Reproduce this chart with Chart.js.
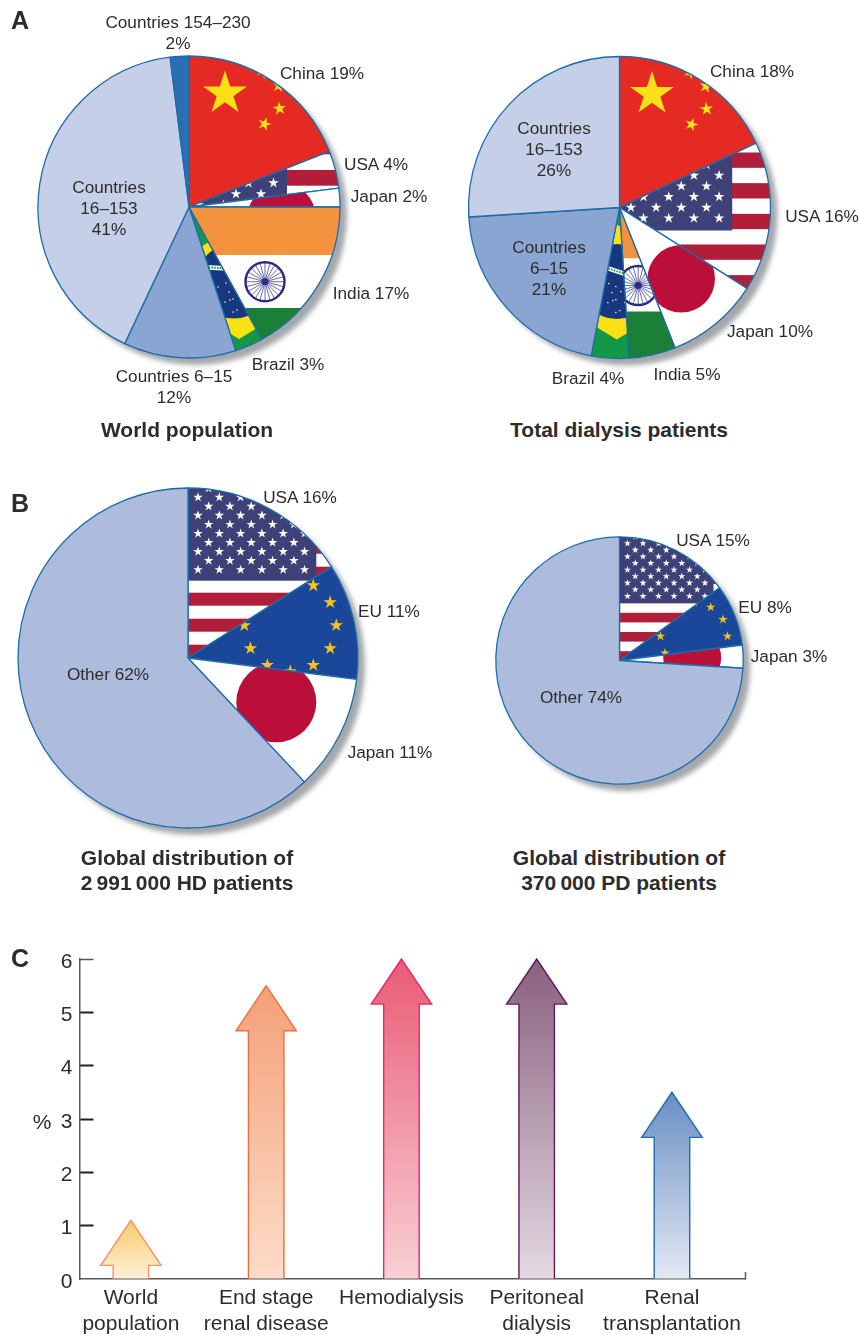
<!DOCTYPE html>
<html>
<head>
<meta charset="utf-8">
<title>Global distribution of dialysis patients</title>
<script src="https://cdn.jsdelivr.net/npm/chart.js@4/dist/chart.umd.js"></script>
<style>
  html, body { margin: 0; background: #fff; }
  #page { position: relative; width: 859px; height: 1335px; overflow: hidden;
          font-family: "Liberation Sans", Arial, sans-serif; color: #2d2c2d; }
  #page canvas { position: absolute; }
  .txt { position: absolute; transform: translate(-50%, -50%); text-align: center; white-space: nowrap; }
  .lbl { font-size: 17.2px; line-height: 20.8px; }
  .ttl { font-size: 21px; line-height: 25px; font-weight: bold; }
  .pan { font-size: 25px; line-height: 25px; font-weight: bold; }
  .pct { font-size: 21px; line-height: 24px; }
</style>
</head>
<body>
<div id="page"></div>
<script>
// ---- data ----
const worldLabels = ['China 19%', 'USA 4%', 'Japan 2%', 'India 17%', 'Brazil 3%', ['Countries 6–15', '12%'], ['Countries', '16–153', '41%'], ['Countries 154–230', '2%']];
const worldValues = [19, 4, 2, 17, 3, 12, 41, 2];
const totalLabels = ['China 18%', 'USA 16%', 'Japan 10%', 'India 5%', 'Brazil 4%', ['Countries', '6–15', '21%'], ['Countries', '16–153', '26%']];
const totalValues = [18, 16, 10, 5, 4, 21, 26];
const hdLabels = ['USA 16%', 'EU 11%', 'Japan 11%', 'Other 62%'];
const hdValues = [16, 11, 11, 62];
const pdLabels = ['USA 15%', 'EU 8%', 'Japan 3%', 'Other 74%'];
const pdValues = [15, 8, 3, 74];
const growthCategories = [['World', 'population'], ['End stage', 'renal disease'], ['Hemodialysis'], ['Peritoneal', 'dialysis'], ['Renal', 'transplantation']];
const growthValues = [1.1, 5.5, 6, 6, 3.5];
const growthTicks = [0, 1, 2, 3, 4, 5, 6];

// ---- label spots, same order as the labels above ----
const worldSpots = [[322, 73], [376, 164], [389, 196], [371, 293], [288, 364], [174, 387], [109, 208], [178, 33]];
const totalSpots = [[752, 71], [822, 216], [770, 331], [687, 374], [588, 378], [549, 268], [554, 149]];
const hdSpots = [[300, 497], [389, 611], [390, 752], [108, 674]];
const pdSpots = [[713, 540], [765, 607], [789, 656], [581, 697]];

const BORDER = '#1b6cab';
const arrowColors = [
  { top: '#fbca6a', bottom: '#fbf1d8', line: '#f6926a' },
  { top: '#f3a078', bottom: '#fddcc9', line: '#ef6f3c' },
  { top: '#ea5b76', bottom: '#f8d0d5', line: '#e8246c' },
  { top: '#89607f', bottom: '#e4d9e2', line: '#5c1a5e' },
  { top: '#6a8ec3', bottom: '#e3e9f5', line: '#1c6cb0' }
];

const page = document.getElementById('page');

function addText(lines, x, y, cls) {
  const el = document.createElement('div');
  el.className = 'txt ' + cls;
  el.style.left = x + 'px';
  el.style.top = y + 'px';
  [].concat(lines).forEach(line => {
    const row = document.createElement('div');
    row.textContent = line;
    el.appendChild(row);
  });
  page.appendChild(el);
}

// ---- flag painters, origin is the pie centre ----
function star(c, x, y, r, color, rot) {
  c.fillStyle = color;
  c.beginPath();
  for (let i = 0; i < 10; i++) {
    const rad = i % 2 ? r * 0.382 : r;
    const a = (rot || 0) - Math.PI / 2 + i * Math.PI / 5;
    c.lineTo(x + rad * Math.cos(a), y + rad * Math.sin(a));
  }
  c.closePath();
  c.fill();
}

function band(c, color, y0, y1) {
  c.fillStyle = color;
  c.fillRect(-400, y0, 800, y1 - y0);
}

function chinaFlag(ox) {
  return c => {
    band(c, '#e42a22', -400, 400);
    star(c, ox + 32.5, -113.5, 23, '#fbdf17');
    star(c, ox + 71, -135, 7, '#fbdf17', 0.5);
    star(c, ox + 86.5, -121, 7, '#fbdf17', 0.2);
    star(c, ox + 87, -98.5, 7, '#fbdf17', -0.1);
    star(c, ox + 72, -83, 7, '#fbdf17', 0.3);
  };
}

function usaFlag(o) {
  return c => {
    band(c, '#fff', -400, 400);
    for (let k = -20; k < 20; k++) {
      const y = o.stripeTop + k * 2 * o.stripeH;
      band(c, '#b01e3a', y, y + o.stripeH);
    }
    c.fillStyle = '#3e4178';
    c.fillRect(-400, -400, o.right + 400, o.bottom + 400);
    for (let row = 0; row < 30; row++) {
      const y = o.starY - row * o.rowH;
      for (let col = -12; col < 12; col++) {
        const x = o.starX + col * o.colW + (row % 2 ? o.colW / 2 : 0);
        if (x + o.starR > o.right || x - o.starR < o.left) continue;
        star(c, x, y, o.starR, '#fff');
      }
    }
  };
}

function japanFlag(cx, cy, r) {
  return c => {
    band(c, '#fff', -400, 400);
    c.fillStyle = '#bb0e38';
    c.beginPath();
    c.arc(cx, cy, r, 0, Math.PI * 2);
    c.fill();
  };
}

function indiaFlag(split1, split2, cx, cy) {
  return c => {
    band(c, '#f5923e', -400, split1);
    band(c, '#fff', split1, split2);
    band(c, '#1a8038', split2, 400);
    c.strokeStyle = '#2b2b86';
    c.fillStyle = '#2b2b86';
    c.lineWidth = 2.4;
    c.beginPath();
    c.arc(cx, cy, 19.5, 0, Math.PI * 2);
    c.stroke();
    c.lineWidth = 0.7;
    for (let i = 0; i < 24; i++) {
      const a = i * Math.PI / 12;
      c.beginPath();
      c.moveTo(cx, cy);
      c.lineTo(cx + 19 * Math.cos(a), cy + 19 * Math.sin(a));
      c.stroke();
    }
    c.beginPath();
    c.arc(cx, cy, 3.4, 0, Math.PI * 2);
    c.fill();
  };
}

function brazilFlag(rx, cx, cy, bandX, bandY, tilt) {
  return c => {
    band(c, '#149845', -400, 400);
    c.fillStyle = '#fbe014';
    c.beginPath();
    c.moveTo(rx, cy - 57);
    c.lineTo(rx + 95, cy);
    c.lineTo(rx, cy + 58);
    c.lineTo(rx - 95, cy);
    c.closePath();
    c.fill();
    c.fillStyle = '#17377f';
    c.beginPath();
    c.arc(cx, cy, 37.5, 0, Math.PI * 2);
    c.fill();
    c.save();
    c.beginPath();
    c.arc(cx, cy, 37.5, 0, Math.PI * 2);
    c.clip();
    const dots = [[-5, 11], [-1, 5], [4, 10], [-1, 18], [8, 21], [-1, 31], [-8, 2], [-16, 6], [-9, 21], [-4, 19], [3, 29]];
    dots.forEach(d => dot(c, cx + d[0], cy + d[1]));
    c.lineWidth = 4.6;
    c.strokeStyle = '#fff';
    c.beginPath();
    c.moveTo(bandX - 30, bandY - 30 * tilt);
    c.lineTo(bandX + 30, bandY + 30 * tilt);
    c.stroke();
    c.lineWidth = 2;
    c.strokeStyle = '#149845';
    c.setLineDash([1.6, 1.2]);
    c.stroke();
    c.restore();
  };
}

function dot(c, x, y) {
  c.fillStyle = '#fff';
  c.fillRect(x - 0.6, y - 0.6, 1.3, 1.3);
}

function euFlag(cx, cy, ring, r) {
  return c => {
    band(c, '#1b479a', -400, 400);
    for (let i = 0; i < 12; i++) {
      const a = i * Math.PI / 6;
      star(c, cx + ring * Math.cos(a), cy + ring * Math.sin(a), r, '#fbc31a');
    }
  };
}

// offscreen pattern, lined up with the chart canvas so the arc fill shows the flag
function flagPattern(size, paint) {
  const off = document.createElement('canvas');
  off.width = size;
  off.height = size;
  const c = off.getContext('2d');
  c.translate(size / 2, size / 2);
  paint(c);
  return c.createPattern(off, 'no-repeat');
}

const pieShadow = {
  id: 'pieShadow',
  beforeDatasetsDraw(chart) {
    const arc = chart.getDatasetMeta(0).data[0];
    const ctx = chart.ctx;
    ctx.save();
    ctx.shadowColor = '#a4a8ac';
    ctx.shadowBlur = 5;
    ctx.shadowOffsetX = 7;
    ctx.shadowOffsetY = 7;
    ctx.fillStyle = '#fff';
    ctx.beginPath();
    ctx.arc(arc.x, arc.y, arc.outerRadius, 0, Math.PI * 2);
    ctx.fill();
    ctx.restore();
  }
};

function makePie(cx, cy, radius, labels, values, spots, fills) {
  const size = 2 * (Math.ceil(radius) + 20) + (cx % 1 ? 1 : 0);
  const canvas = document.createElement('canvas');
  canvas.width = size;
  canvas.height = size;
  canvas.style.left = (cx - size / 2) + 'px';
  canvas.style.top = Math.round(cy - size / 2) + 'px';
  page.appendChild(canvas);

  new Chart(canvas, {
    type: 'pie',
    data: {
      labels: labels.map(l => [].concat(l).join(' ')),
      datasets: [{
        data: values,
        backgroundColor: fills.map(f => typeof f === 'function' ? flagPattern(size, f) : f),
        borderColor: BORDER,
        borderWidth: 1.3,
        radius: radius
      }]
    },
    options: {
      responsive: false,
      animation: false,
      events: [],
      plugins: { legend: { display: false }, tooltip: { enabled: false } }
    },
    plugins: [pieShadow]
  });

  labels.forEach((l, i) => addText(l, spots[i][0], spots[i][1], 'lbl'));
}

makePie(189, 207, 151, worldLabels, worldValues, worldSpots, [
  chinaFlag(3.5),
  usaFlag({ stripeTop: -37, stripeH: 15.7, right: 98, bottom: 1, left: -400, starX: 34.5, starY: -2, colW: 25, rowH: 11, starR: 5.5 }),
  japanFlag(92.7, 10, 34),
  indiaFlag(48, 101, 76, 74.7),
  brazilFlag(50, 45, 74, 30, 61, 0.05),
  '#8aa5d1', '#c5cfe8', '#2a6fb4'
]);

makePie(619.5, 207, 151, totalLabels, totalValues, totalSpots, [
  chinaFlag(0),
  usaFlag({ stripeTop: -55, stripeH: 15.33, right: 112.7, bottom: 23, left: -400, starX: 24, starY: 10.7, colW: 25.2, rowH: 10.7, starR: 5.5 }),
  japanFlag(61.7, 71.3, 33.8),
  indiaFlag(51, 104, 18.7, 78),
  brazilFlag(-2.7, -2.7, 74, -5, 63, 0.33),
  '#8aa5d1', '#c5cfe8'
]);

makePie(188, 658, 170, hdLabels, hdValues, hdSpots, [
  usaFlag({ stripeTop: -65.3, stripeH: 13, right: 128.3, bottom: -77.3, left: 0, starX: 10, starY: -88.3, colW: 21.3, rowH: 9.05, starR: 5 }),
  euFlag(102.3, -32.7, 46, 7),
  japanFlag(88.3, 44.3, 40),
  '#adbcdd'
]);

makePie(619.5, 660, 123.7, pdLabels, pdValues, pdSpots, [
  usaFlag({ stripeTop: -47.7, stripeH: 9.6, right: 94, bottom: -57.3, left: 0, starX: 8, starY: -64.3, colW: 15.5, rowH: 6.6, starR: 3.7 }),
  euFlag(74.5, -24.3, 33.5, 5),
  japanFlag(72.7, -3, 29),
  '#adbcdd'
]);

// ---- panel C ----
const arrowPlugin = {
  id: 'arrowPlugin',
  afterDatasetsDraw(chart) {
    const ctx = chart.ctx;
    chart.getDatasetMeta(0).data.forEach((bar, i) => {
      const half = bar.width / 2;
      const headHalf = half * 1.7;
      const neck = bar.y + bar.width * 1.27;
      const grad = ctx.createLinearGradient(0, bar.y, 0, bar.base);
      grad.addColorStop(0, arrowColors[i].top);
      grad.addColorStop(1, arrowColors[i].bottom);
      ctx.save();
      ctx.beginPath();
      ctx.moveTo(bar.x - half, bar.base);
      ctx.lineTo(bar.x - half, neck);
      ctx.lineTo(bar.x - headHalf, neck);
      ctx.lineTo(bar.x, bar.y);
      ctx.lineTo(bar.x + headHalf, neck);
      ctx.lineTo(bar.x + half, neck);
      ctx.lineTo(bar.x + half, bar.base);
      ctx.fillStyle = grad;
      ctx.fill();
      ctx.strokeStyle = arrowColors[i].line;
      ctx.lineWidth = 1.4;
      ctx.lineJoin = 'miter';
      ctx.stroke();
      ctx.restore();
    });
  }
};

const barCanvas = document.createElement('canvas');
barCanvas.width = 859;
barCanvas.height = 395;
barCanvas.style.left = '0px';
barCanvas.style.top = '940px';
page.appendChild(barCanvas);

const xMin = -0.38;
const xMax = 4.54;
const fontStack = '"Liberation Sans", Arial, sans-serif';

new Chart(barCanvas, {
  type: 'bar',
  data: {
    datasets: [{
      data: growthValues.map((v, i) => ({ x: i, y: v })),
      backgroundColor: 'transparent',
      borderWidth: 0,
      barThickness: 35.5
    }]
  },
  options: {
    responsive: false,
    animation: false,
    events: [],
    layout: { padding: { top: 19, right: 114, left: 0, bottom: 0 } },
    plugins: { legend: { display: false }, tooltip: { enabled: false } },
    scales: {
      x: {
        type: 'linear',
        offset: false,
        min: xMin,
        max: xMax,
        afterFit(s) { s.height = 56; },
        afterBuildTicks(s) {
          s.ticks = growthCategories.map((c, i) => ({ value: i })).concat([{ value: xMax }]);
        },
        border: { color: '#58585a', width: 1.5 },
        grid: {
          offset: false,
          drawOnChartArea: false,
          tickLength: -7,
          tickWidth: 1.5,
          tickColor: ctx => ctx.tick && ctx.tick.value === xMax ? '#58585a' : 'transparent'
        },
        ticks: {
          padding: 13,
          autoSkip: false,
          maxRotation: 0,
          color: '#2d2c2d',
          font: { family: fontStack, size: 21, lineHeight: 1.25 },
          callback: v => growthCategories[v] || ''
        }
      },
      y: {
        min: 0,
        max: 6,
        afterFit(s) {
          s.width = 79.5;
          s.paddingTop = 0;
          s.paddingBottom = 0;
        },
        afterBuildTicks(s) { s.ticks = growthTicks.map(v => ({ value: v })); },
        border: { color: '#58585a', width: 1.5 },
        grid: {
          drawOnChartArea: false,
          tickLength: -14,
          tickWidth: ctx => ctx.tick && ctx.tick.value === 6 ? 1.5 : 2,
          tickColor: ctx => {
            if (!ctx.tick || ctx.tick.value === 0) return 'transparent';
            return ctx.tick.value === 6 ? '#58585a' : '#231f20';
          }
        },
        ticks: {
          padding: 21,
          labelOffset: 3,
          color: '#2d2c2d',
          font: { family: fontStack, size: 21 },
          callback: v => v
        }
      }
    }
  },
  plugins: [arrowPlugin]
});

// ---- titles and panel letters ----
addText('World population', 187, 429, 'ttl');
addText('Total dialysis patients', 619, 429, 'ttl');
addText(['Global distribution of', '2\u2009991\u2009000 HD patients'], 187, 870, 'ttl');
addText(['Global distribution of', '370\u2009000 PD patients'], 619, 870, 'ttl');
addText('A', 20, 20, 'pan');
addText('B', 20, 503, 'pan');
addText('C', 20, 958, 'pan');
addText('%', 42, 1122, 'pct');
</script>
</body>
</html>
